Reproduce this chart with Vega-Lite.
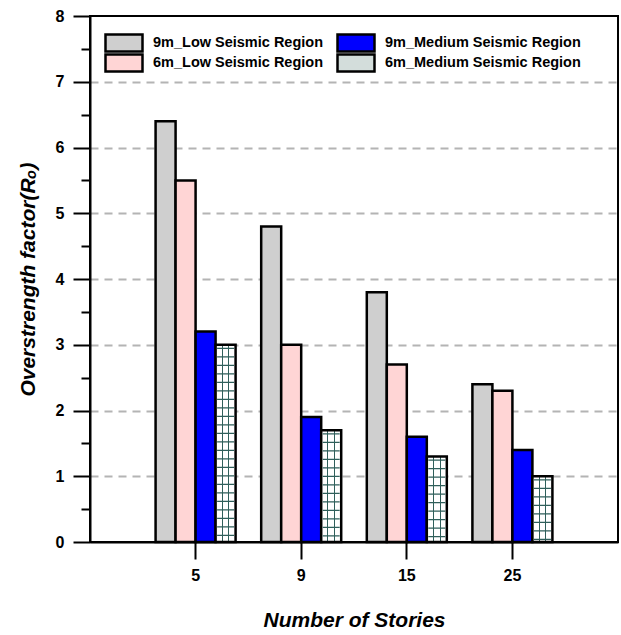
{
  "$schema": "https://vega.github.io/schema/vega-lite/v6.json",
  "autosize": {"type": "none"},
  "padding": {"left": 90, "top": 16, "right": 3, "bottom": 93},
  "width": 528,
  "height": 526,
  "config": {
    "font": "Liberation Sans",
    "view": {"stroke": "black", "strokeWidth": 2}
  },
  "data": {
    "values": [
      {"stories": 5, "series": "9m_Low Seismic Region", "value": 6.4},
      {"stories": 5, "series": "6m_Low Seismic Region", "value": 5.5},
      {"stories": 5, "series": "9m_Medium Seismic Region", "value": 3.2},
      {"stories": 5, "series": "6m_Medium Seismic Region", "value": 3.0},
      {"stories": 9, "series": "9m_Low Seismic Region", "value": 4.8},
      {"stories": 9, "series": "6m_Low Seismic Region", "value": 3.0},
      {"stories": 9, "series": "9m_Medium Seismic Region", "value": 1.9},
      {"stories": 9, "series": "6m_Medium Seismic Region", "value": 1.7},
      {"stories": 15, "series": "9m_Low Seismic Region", "value": 3.8},
      {"stories": 15, "series": "6m_Low Seismic Region", "value": 2.7},
      {"stories": 15, "series": "9m_Medium Seismic Region", "value": 1.6},
      {"stories": 15, "series": "6m_Medium Seismic Region", "value": 1.3},
      {"stories": 25, "series": "9m_Low Seismic Region", "value": 2.4},
      {"stories": 25, "series": "6m_Low Seismic Region", "value": 2.3},
      {"stories": 25, "series": "9m_Medium Seismic Region", "value": 1.4},
      {"stories": 25, "series": "6m_Medium Seismic Region", "value": 1.0}
    ]
  },
  "layer": [
    {
      "mark": {"type": "bar"},
      "encoding": {
        "x": {
          "field": "stories", "type": "ordinal",
          "scale": {"paddingInner": 0.2424, "paddingOuter": 0.621},
          "axis": {
            "title": "Number of Stories", "labelAngle": 0,
            "labelFontSize": 16, "labelFontWeight": "bold", "labelColor": "black",
            "labelPadding": 8, "tickSize": 17, "tickWidth": 2, "tickColor": "black",
            "domainColor": "black", "domainWidth": 2,
            "titleFontSize": 21, "titleFontStyle": "italic", "titleFontWeight": "bold",
            "titleColor": "black", "titleY": 78, "titleBaseline": "middle"
          }
        },
        "xOffset": {
          "field": "series",
          "sort": ["9m_Low Seismic Region", "6m_Low Seismic Region", "9m_Medium Seismic Region", "6m_Medium Seismic Region"],
          "scale": {"paddingInner": 0, "paddingOuter": 0}
        },
        "y": {
          "field": "value", "type": "quantitative",
          "scale": {"domain": [0, 8], "nice": false},
          "axis": {
            "values": [0, 1, 2, 3, 4, 5, 6, 7, 8],
            "title": "Overstrength factor(Rₒ)",
            "grid": true, "gridDash": [8, 6], "gridColor": "#b4b4b4", "gridWidth": 2,
            "gridOpacity": {"condition": {"test": "datum.value == 0 || datum.value == 8", "value": 0}, "value": 1},
            "tickSize": 17, "tickWidth": 2, "tickColor": "black",
            "domainColor": "black", "domainWidth": 2,
            "labelFontSize": 16, "labelFontWeight": "bold", "labelColor": "black", "labelPadding": 9,
            "titleFontSize": 21, "titleFontStyle": "italic", "titleFontWeight": "bold", "titleColor": "black",
            "titleX": -62, "titleY": 263, "titleAngle": -90, "titleAlign": "center", "titleBaseline": "middle"
          }
        },
        "stroke": {"value": "black"},
        "strokeWidth": {"value": 2.5},
        "strokeOpacity": {"value": 1},
        "fill": {
          "condition": {
            "test": "datum.series == '6m_Medium Seismic Region'",
            "value": {"gradient": "linear", "x1": 0, "y1": 0, "x2": 1, "y2": 0, "stops": [
              {"offset": 0, "color": "#ffffff"},
              {"offset": 0.31, "color": "#ffffff"},
              {"offset": 0.31, "color": "#2f5f5b"},
              {"offset": 0.36, "color": "#2f5f5b"},
              {"offset": 0.36, "color": "#ffffff"},
              {"offset": 0.64, "color": "#ffffff"},
              {"offset": 0.64, "color": "#2f5f5b"},
              {"offset": 0.69, "color": "#2f5f5b"},
              {"offset": 0.69, "color": "#ffffff"},
              {"offset": 1, "color": "#ffffff"}
            ]}
          },
          "field": "series", "type": "nominal",
          "scale": {
            "domain": ["9m_Low Seismic Region", "6m_Low Seismic Region", "9m_Medium Seismic Region", "6m_Medium Seismic Region"],
            "range": ["#cfcfcf", "#ffd5d5", "#0000ff", "#d3dddb"]
          },
          "legend": {
            "title": null, "orient": "none", "legendX": 14, "legendY": 17, "columns": 2,
            "symbolType": "M-1,-0.46H1V0.46H-1Z", "symbolSize": 1369,
            "symbolStrokeColor": "black", "symbolStrokeWidth": 2.5, "symbolOpacity": 1,
            "labelFontSize": 14.5, "labelFontWeight": "bold", "labelColor": "black",
            "labelOffset": 9, "columnPadding": 12, "rowPadding": 0, "clipHeight": 20,
            "padding": 0, "labelLimit": 300
          }
        }
      }
    },
    {
      "transform": [{"filter": "datum.series == '6m_Medium Seismic Region'"}],
      "mark": {"type": "rule", "strokeWidth": 17, "strokeDash": [1.2, 7.3], "strokeDashOffset": -3, "color": "#2f5f5b", "strokeCap": "butt"},
      "encoding": {
        "x": {"field": "stories", "type": "ordinal"},
        "xOffset": {
          "field": "series",
          "sort": ["9m_Low Seismic Region", "6m_Low Seismic Region", "9m_Medium Seismic Region", "6m_Medium Seismic Region"]
        },
        "y": {"field": "value", "type": "quantitative", "axis": null},
        "y2": {"datum": 0}
      }
    },
    {
      "mark": {"type": "point", "opacity": 0},
      "encoding": {
        "y": {
          "field": "value", "type": "quantitative",
          "scale": {"domain": [0, 8], "nice": false},
          "axis": {
            "orient": "left", "values": [0.5, 1.5, 2.5, 3.5, 4.5, 5.5, 6.5, 7.5],
            "tickSize": 9, "tickWidth": 2, "tickColor": "black",
            "labels": false, "domain": false, "grid": false, "title": null
          }
        }
      }
    }
  ],
  "resolve": {"axis": {"y": "independent"}}
}
